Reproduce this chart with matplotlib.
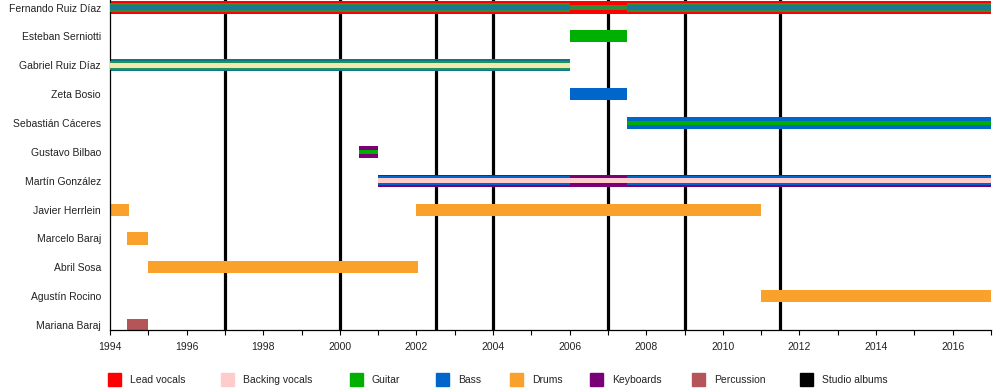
import matplotlib
matplotlib.use("Agg")
import matplotlib.pyplot as plt
from matplotlib.patches import Rectangle

plt.rcParams['font.family'] = ['Liberation Sans', 'DejaVu Sans']

# ---- data ----
members = ["Fernando Ruiz Díaz", "Esteban Serniotti", "Gabriel Ruiz Díaz", "Zeta Bosio",
           "Sebastián Cáceres", "Gustavo Bilbao", "Martín González", "Javier Herrlein",
           "Marcelo Baraj", "Abril Sosa", "Agustín Rocino", "Mariana Baraj"]

seg_member = ["Fernando Ruiz Díaz", "Fernando Ruiz Díaz", "Fernando Ruiz Díaz", "Fernando Ruiz Díaz",
              "Fernando Ruiz Díaz", "Fernando Ruiz Díaz",
              "Esteban Serniotti",
              "Gabriel Ruiz Díaz", "Gabriel Ruiz Díaz", "Gabriel Ruiz Díaz",
              "Zeta Bosio",
              "Sebastián Cáceres", "Sebastián Cáceres",
              "Gustavo Bilbao", "Gustavo Bilbao",
              "Martín González", "Martín González", "Martín González", "Martín González",
              "Javier Herrlein", "Javier Herrlein",
              "Marcelo Baraj", "Abril Sosa", "Agustín Rocino", "Mariana Baraj"]
seg_start = [1994, 1994, 2006, 2007.5, 1994, 2007.5,
             2006,
             1994, 1994, 1994,
             2006,
             2007.5, 2007.5,
             2000.5, 2000.5,
             2001, 2001, 2007.5, 2001,
             1994, 2002,
             1994.45, 1995, 2011, 1994.45]
seg_end = [2017, 2006, 2007.5, 2017, 2006, 2017,
           2007.5,
           2006, 2006, 2006,
           2007.5,
           2017, 2017,
           2001, 2001,
           2017, 2006, 2017, 2017,
           1994.5, 2011,
           1995, 2002.05, 2017, 1995]
seg_role = ["Lead vocals", "Guitar", "Guitar", "Guitar", "Bass", "Bass",
            "Guitar",
            "Bass", "Guitar", "Backing vocals",
            "Bass",
            "Bass", "Guitar",
            "Keyboards", "Guitar",
            "Keyboards", "Bass", "Bass", "Backing vocals",
            "Drums", "Drums",
            "Drums", "Drums", "Drums", "Percussion"]
seg_layer = [0, 1, 2, 1, 2, 2,
             0,
             0, 1, 2,
             0,
             0, 2,
             0, 2,
             0, 1, 1, 2,
             0, 0,
             0, 0, 0, 0]

albums = [1997, 2000, 2002.5, 2004, 2007, 2009, 2011.5]

legend_labels = ["Lead vocals", "Backing vocals", "Guitar", "Bass", "Drums",
                 "Keyboards", "Percussion", "Studio albums"]

# ---- style ----
role_colors = {"Lead vocals": "#ff0000", "Backing vocals": "#ffcccc", "Guitar": "#00b000",
               "Bass": "#0066cc", "Drums": "#f9a12b", "Keyboards": "#7a0078",
               "Percussion": "#b5555a", "Studio albums": "#000000"}
tint = {("Fernando Ruiz Díaz", "Bass"): "#15789c",
        ("Fernando Ruiz Díaz", "Guitar"): "#2e8c3a",
        ("Gabriel Ruiz Díaz", "Bass"): "#12718f",
        ("Gabriel Ruiz Díaz", "Guitar"): "#1c9650",
        ("Gabriel Ruiz Díaz", "Backing vocals"): "#f2e8b0"}
layer_height = {0: 0.42, 1: 0.30, 2: 0.16}

W, H = 1000, 390
fig = plt.figure(figsize=(W / 100, H / 100), dpi=100)
ax = fig.add_axes([110 / W, 60 / H, (991 - 110) / W, 330 / H])

ypos = {m: i for i, m in enumerate(members)}

for x in albums:
    ax.axvline(x, color="black", lw=2.3, zorder=1)

for m, s, e, r, l in zip(seg_member, seg_start, seg_end, seg_role, seg_layer):
    c = tint.get((m, r), role_colors[r])
    ax.barh(ypos[m], e - s, left=s, height=layer_height[l], color=c,
            edgecolor="none", zorder=2 + l)

ax.set_xlim(1994, 2017)
ax.set_ylim(len(members) - 1 + 0.17, -0.26)
ax.set_yticks(range(len(members)))
ax.set_yticklabels(members, fontsize=7.5, color="#222222")
ax.tick_params(axis="y", length=0, pad=6.5)
ax.set_xticks(range(1994, 2017, 2))
ax.set_xticks(range(1995, 2018, 2), minor=True)
ax.tick_params(axis="x", which="both", direction="out", length=3.5, width=0.8,
               labelsize=7.5, labelcolor="#222222", pad=5)
for sp in ["top", "right"]:
    ax.spines[sp].set_visible(False)
ax.spines["left"].set_linewidth(0.9)
ax.spines["bottom"].set_linewidth(0.9)

# legend
sq_x = [108, 221, 350, 436, 510, 590, 692, 800]
for lab, x0 in zip(legend_labels, sq_x):
    fig.add_artist(Rectangle((x0 / W, (H - 386) / H), 13 / W, 13 / H,
                             transform=fig.transFigure, color=role_colors[lab]))
    fig.text((x0 + 22) / W, (H - 380) / H, lab, fontsize=7.5, color="#222222",
             va="center", ha="left")

fig.savefig("out.png", dpi=100)
